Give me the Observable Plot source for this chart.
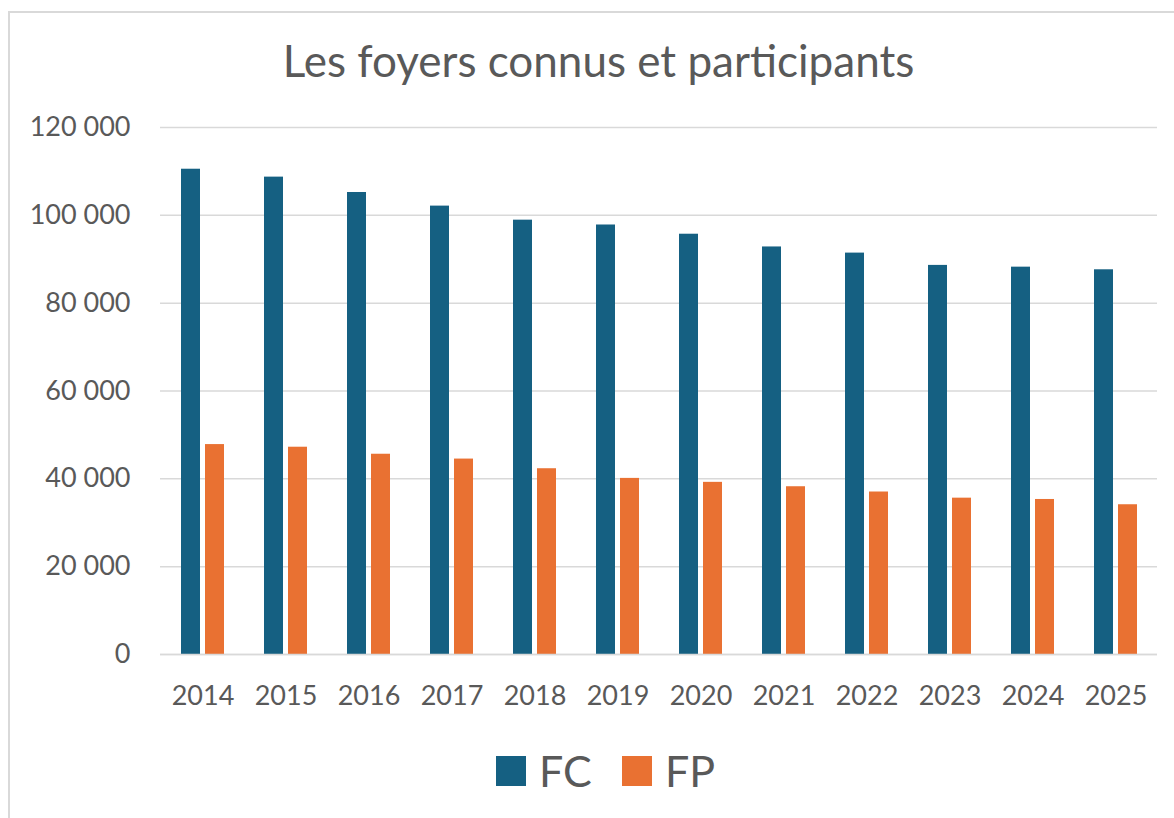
<!DOCTYPE html>
<html><head><meta charset="utf-8">
<script src="https://cdn.jsdelivr.net/npm/d3@7"></script>
<script src="https://cdn.jsdelivr.net/npm/@observablehq/plot@0.6"></script>
<style>
body{margin:0;background:#fff;font-family:Lato,sans-serif;overflow:hidden;}
#frame{position:absolute;left:8px;top:11px;width:1190px;height:830px;border:2px solid #d9d9d9;box-sizing:border-box;}
#title{position:absolute;left:0;top:35px;width:1197px;text-align:center;font-size:44px;line-height:50px;color:#595959;white-space:nowrap;}
#chart{position:absolute;left:0;top:100px;}
#legend{position:absolute;top:748px;left:0;width:1174px;height:46px;}
.sw{position:absolute;top:8px;width:30px;height:30px;}
.lt{position:absolute;top:0;font-size:43px;line-height:46px;color:#595959;}
</style></head>
<body>
<div id="frame"></div>
<div id="title">Les foyers connus et participants</div>
<div id="chart"></div>
<div id="legend">
  <div class="sw" style="left:496px;background:#156082"></div><div class="lt" style="left:539px">FC</div>
  <div class="sw" style="left:622px;background:#E97132"></div><div class="lt" style="left:665px">FP</div>
</div>
<script>
const years = ["2014","2015","2016","2017","2018","2019","2020","2021","2022","2023","2024","2025"];
const fc = [110500, 108700, 105200, 102100, 98900, 97800, 95700, 92800, 91400, 88600, 88200, 87600];
const fp = [47800, 47200, 45600, 44500, 42300, 40100, 39200, 38200, 37000, 35600, 35300, 34100];
const yTicks = [0, 20000, 40000, 60000, 80000, 100000, 120000];
const colors = {FC: "#156082", FP: "#E97132"};

const fcData = years.map((y, i) => ({year: y, value: fc[i]}));
const fpData = years.map((y, i) => ({year: y, value: fp[i]}));
const fmt = d => d3.format(",")(d).replace(/,/g, " ");

const chart = Plot.plot({
  width: 1174,
  height: 640,
  marginLeft: 160,
  marginRight: 17,
  marginTop: 27,
  marginBottom: 86,
  style: {fontFamily: "Lato, sans-serif", fontSize: "27px", color: "#595959", background: "transparent", overflow: "visible"},
  x: {type: "band", domain: years, padding: 0},
  y: {domain: [0, 120000]},
  marks: [
    Plot.gridY(yTicks, {stroke: "#d9d9d9", strokeOpacity: 1, strokeWidth: 1.5}),
    Plot.barY(fcData, {x: "year", y: "value", fill: colors.FC, insetLeft: 20, insetRight: 44}),
    Plot.barY(fpData, {x: "year", y: "value", fill: colors.FP, insetLeft: 44, insetRight: 20}),
    Plot.ruleY([0], {stroke: "#d9d9d9", strokeWidth: 1.5}),
    Plot.axisY(yTicks, {tickSize: 0, tickPadding: 30, tickFormat: fmt, label: null}),
    Plot.axisX({tickSize: 0, tickPadding: 31, label: null})
  ]
});
document.getElementById("chart").appendChild(chart);
</script>
</body></html>
